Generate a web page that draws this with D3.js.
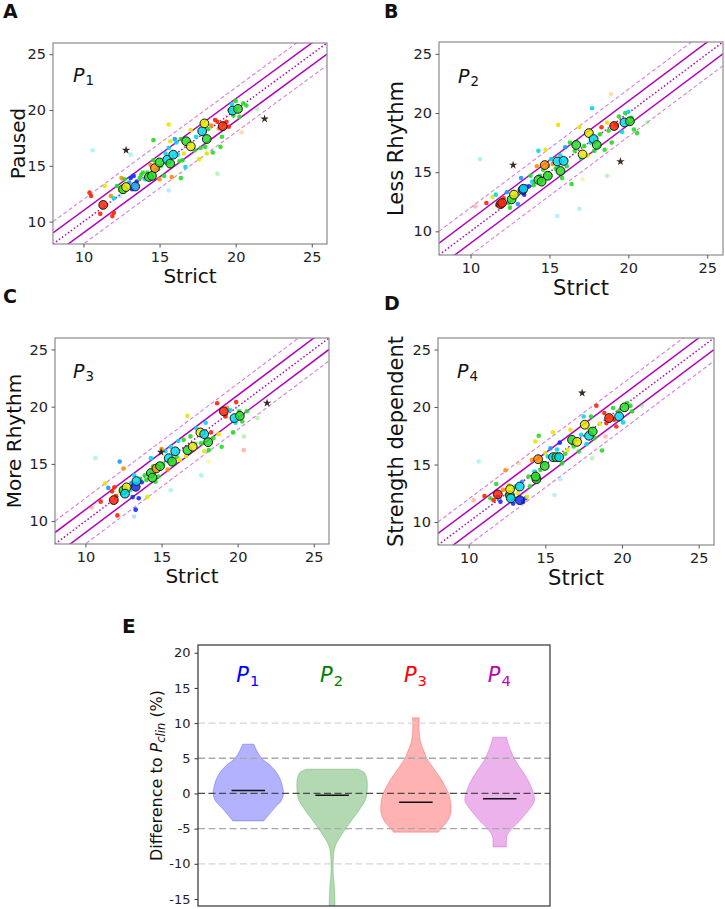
<!DOCTYPE html>
<html>
<head>
<meta charset="utf-8">
<script src="https://cdn.jsdelivr.net/npm/d3@7"></script>
<style>
  body { margin: 0; background: #fff; }
  svg text { font-family: "DejaVu Sans", sans-serif; }
</style>
</head>
<body>
<div id="chart"></div>
<script>
// --- DATA: scatter panels (Strict on x, protocol on y), colour group per point ---

const axisRange = [8, 26];
const scatterTicks = [10, 15, 20, 25];
const bandOffsets = [2, 1, 0, -1, -2];

// Panel A: Paused
const aBig = [[11.3,11.5,"r"],[12.6,12.9,"g"],[12.8,13.1,"y"],[13.4,13.15,"l"],[14.3,14.0,"g"],[14.5,14.1,"g"],
  [14.7,14.8,"o"],[15.0,15.3,"g"],[15.5,15.55,"c"],[15.7,15.2,"g"],[15.9,16.0,"c"],[16.75,17.2,"g"],
  [17.05,16.75,"y"],[17.8,18.1,"c"],[17.95,18.8,"y"],[18.1,17.4,"g"],[19.15,18.55,"r"],[19.8,19.95,"c"],[20.15,20.1,"g"]];
const aSmall = [[10.4,12.6,"r"],[10.5,12.3,"r"],[11.1,10.7,"r"],[11.9,10.5,"r"],[12.0,10.8,"r"],[11.8,12.3,"o"],
  [11.4,13.2,"y"],[12.0,12.1,"c"],[12.2,13.2,"g"],[12.4,12.8,"y"],[12.5,13.9,"o"],[12.7,13.8,"g"],[13.0,13.5,"l"],
  [13.1,13.9,"b"],[13.2,12.9,"b"],[13.3,14.1,"b"],[13.5,13.6,"b"],[13.7,13.9,"g"],[13.6,13.2,"y"],[13.8,14.2,"g"],
  [13.9,14.4,"g"],[14.05,13.8,"c"],[14.2,14.4,"g"],[14.4,15.1,"o"],[14.6,17.3,"g"],[14.6,15.5,"g"],[14.9,14.7,"g"],
  [15.0,13.8,"o"],[15.1,15.0,"g"],[15.3,14.1,"g"],[15.4,16.1,"c"],[15.6,18.7,"y"],[15.6,16.6,"c"],[15.7,17.2,"y"],
  [15.8,14.0,"o"],[16.0,17.4,"l"],[16.1,17.1,"c"],[16.2,16.0,"c"],[16.3,15.4,"g"],[16.4,13.9,"g"],[16.4,17.4,"g"],
  [16.5,15.5,"g"],[16.6,16.1,"y"],[16.7,14.9,"c"],[17.05,18.2,"y"],[17.3,16.4,"g"],[17.4,17.6,"c"],[17.6,15.6,"y"],
  [17.7,16.6,"g"],[17.8,18.8,"y"],[18.0,16.7,"g"],[18.1,16.1,"y"],[18.2,18.3,"g"],[18.4,18.6,"o"],[18.5,16.2,"g"],
  [18.65,19.1,"r"],[18.8,18.95,"r"],[18.9,18.35,"o"],[19.0,16.7,"g"],[19.1,17.6,"g"],[19.2,18.8,"o"],[19.4,18.95,"r"],
  [19.55,18.5,"r"],[19.6,20.0,"g"],[19.75,20.5,"c"],[19.85,19.5,"g"],[20.0,20.8,"g"],[20.25,19.4,"g"],[20.5,20.6,"g"],
  [20.7,20.4,"g"]];
const aFaint = [[20.4,18.0,"o"],[18.8,14.3,"g"],[15.6,12.8,"c"],[10.6,16.4,"c"],[21.4,20.1,"g"],[12.4,12.3,"c"],[13.1,16.0,"c"]];
const aStars = [[12.8,16.4],[21.9,19.2]];

// Panel B: Less Rhythm
const bBig = [[11.9,12.3,"r"],[12.0,12.4,"r"],[12.6,12.7,"g"],[12.75,13.1,"y"],[13.3,13.5,"b"],[13.35,13.6,"c"],
  [14.3,14.35,"g"],[14.5,14.2,"g"],[14.9,14.7,"g"],[14.7,15.6,"o"],[15.5,15.9,"c"],[15.9,15.95,"c"],[15.7,15.1,"g"],
  [16.7,17.3,"g"],[17.1,16.5,"y"],[17.5,18.3,"y"],[17.8,17.8,"c"],[18.0,17.3,"g"],[19.1,18.9,"r"],[19.75,19.2,"c"],[20.1,19.3,"g"]];
const bSmall = [[11.0,12.4,"r"],[11.4,12.9,"y"],[11.6,13.1,"c"],[11.7,12.2,"r"],[12.1,12.8,"r"],[12.3,13.3,"l"],
  [12.4,12.4,"g"],[12.9,13.0,"c"],[13.1,13.4,"y"],[13.2,14.5,"l"],[13.4,13.1,"b"],[13.5,13.8,"l"],[13.7,13.8,"b"],
  [13.8,14.7,"g"],[13.9,14.2,"c"],[14.2,15.5,"o"],[14.3,16.8,"c"],[14.4,14.7,"g"],[14.6,15.2,"g"],[14.75,16.9,"y"],
  [14.9,15.5,"g"],[15.1,16.1,"c"],[15.2,15.7,"o"],[15.4,15.3,"g"],[15.55,19.0,"y"],[15.7,16.4,"c"],[15.8,14.5,"g"],
  [16.0,17.1,"l"],[16.1,15.5,"g"],[16.3,17.5,"g"],[16.4,14.0,"g"],[16.6,16.8,"g"],[16.9,18.8,"y"],[17.0,16.2,"c"],
  [17.2,17.2,"g"],[17.4,16.4,"y"],[17.6,17.5,"c"],[17.7,20.4,"c"],[17.85,16.8,"g"],[18.2,18.2,"g"],[18.3,18.8,"r"],
  [18.5,16.9,"g"],[18.65,19.2,"y"],[18.75,18.5,"g"],[18.95,17.5,"g"],[19.25,19.0,"r"],[19.4,19.7,"g"],[19.6,18.4,"c"],
  [19.8,20.0,"g"],[19.9,19.2,"r"],[20.2,19.6,"g"],[20.35,18.6,"g"],[20.55,18.3,"g"],[20.0,20.1,"c"],[12.5,12.0,"g"],
  [13.0,12.3,"l"],[14.0,13.9,"g"],[15.0,14.6,"g"]];
const bFaint = [[10.3,12.1,"r"],[10.6,16.1,"c"],[18.9,21.6,"o"],[21.2,19.2,"g"],[18.65,14.7,"g"],[15.5,11.3,"c"],[16.9,11.9,"c"],[17.1,14.4,"y"]];
const bStars = [[12.7,15.6],[19.5,15.9]];

// Panel C: More Rhythm
const cBig = [[11.86,11.84,"r"],[12.5,12.7,"g"],[12.7,12.95,"y"],[12.6,12.4,"c"],[13.3,13.0,"b"],[13.35,13.5,"c"],
  [14.3,14.2,"g"],[14.4,13.8,"g"],[14.66,14.6,"o"],[14.9,14.8,"g"],[15.47,15.5,"c"],[15.69,15.2,"g"],[15.9,16.1,"c"],
  [16.7,16.2,"g"],[17.05,16.5,"y"],[17.55,17.75,"y"],[17.8,17.6,"c"],[18.06,16.9,"g"],[19.09,19.59,"r"],[19.79,19.0,"c"],[20.14,19.2,"g"]];
const cSmall = [[11.0,11.7,"r"],[11.3,13.3,"y"],[11.5,12.9,"l"],[11.75,12.6,"r"],[11.9,12.95,"r"],[12.0,12.2,"r"],
  [12.1,10.5,"r"],[12.25,15.2,"l"],[12.5,14.6,"o"],[12.95,12.7,"c"],[13.1,12.1,"b"],[13.2,14.0,"c"],[13.3,11.0,"b"],
  [13.5,12.0,"b"],[13.6,13.7,"g"],[13.7,13.4,"b"],[13.9,14.0,"g"],[14.05,12.1,"y"],[14.3,15.5,"c"],[14.45,14.8,"g"],
  [14.6,13.45,"g"],[14.8,13.9,"g"],[15.0,16.3,"o"],[15.25,16.1,"c"],[15.4,14.5,"o"],[15.6,16.5,"c"],[15.8,15.1,"y"],
  [16.0,15.6,"g"],[16.1,17.0,"c"],[16.2,15.35,"y"],[16.45,17.1,"g"],[16.6,15.7,"y"],[16.7,19.2,"y"],[16.9,17.4,"g"],
  [17.2,16.75,"g"],[17.3,18.1,"c"],[17.6,16.8,"g"],[17.8,16.1,"y"],[17.9,18.6,"c"],[18.1,16.2,"g"],[18.25,17.75,"r"],
  [18.4,17.25,"g"],[18.65,20.3,"r"],[18.75,17.6,"y"],[18.95,16.5,"g"],[19.2,19.15,"r"],[19.3,19.9,"o"],[19.5,19.7,"c"],
  [19.7,17.75,"g"],[19.85,18.6,"c"],[19.9,20.4,"r"],[20.1,19.6,"g"],[20.3,18.7,"g"],[20.6,19.6,"g"],[12.3,12.5,"y"],
  [13.0,13.3,"l"],[14.0,13.6,"g"],[15.1,15.0,"g"]];
const cFaint = [[10.4,11.2,"r"],[10.65,15.5,"c"],[20.4,17.4,"g"],[20.4,16.2,"r"],[21.3,19.0,"g"],[17.6,14.0,"c"],[15.6,12.7,"c"],[18.1,15.2,"y"],[13.2,10.4,"l"]];
const cStars = [[21.93,20.32],[14.97,16.02]];

// Panel D: Strength dependent
const dBig = [[11.9,12.4,"r"],[12.7,12.3,"g"],[12.7,12.85,"y"],[12.75,12.06,"c"],[13.33,13.08,"c"],[13.33,11.9,"b"],
  [14.42,13.72,"g"],[14.37,13.95,"g"],[14.53,15.46,"o"],[14.96,14.88,"g"],[15.5,15.64,"c"],[15.72,15.64,"g"],
  [15.9,15.64,"c"],[16.74,17.15,"g"],[17.07,16.97,"y"],[17.57,18.46,"y"],[17.85,17.5,"c"],[18.09,17.87,"g"],
  [19.16,19.04,"r"],[19.81,19.18,"c"],[20.16,19.97,"g"]];
const dSmall = [[11.03,12.26,"r"],[11.42,12.06,"g"],[11.63,11.9,"r"],[11.8,13.3,"g"],[11.9,12.2,"b"],[12.07,11.77,"b"],
  [12.24,12.79,"o"],[12.4,14.5,"o"],[12.5,12.4,"r"],[12.9,11.6,"b"],[13.05,13.08,"g"],[13.2,12.5,"y"],[13.48,13.5,"l"],
  [13.55,11.77,"b"],[13.7,12.06,"b"],[13.8,12.2,"y"],[13.9,13.95,"g"],[14.0,13.1,"g"],[14.13,15.4,"o"],[14.29,14.39,"c"],
  [14.35,17.0,"y"],[14.57,17.5,"g"],[14.68,14.53,"g"],[14.85,15.1,"g"],[15.0,16.0,"y"],[15.16,15.7,"c"],[15.33,16.4,"l"],
  [15.5,17.8,"y"],[15.76,16.3,"c"],[15.94,16.9,"b"],[16.09,15.1,"g"],[16.3,15.93,"g"],[16.46,16.28,"y"],[16.63,18.02,"y"],
  [16.85,16.57,"g"],[17.18,16.13,"g"],[17.33,17.58,"c"],[17.5,19.18,"c"],[17.68,16.77,"c"],[17.83,18.08,"y"],
  [17.98,19.18,"g"],[18.2,17.29,"g"],[18.33,20.11,"r"],[18.55,18.54,"y"],[18.7,16.22,"g"],[18.85,19.47,"r"],
  [18.98,18.6,"r"],[19.24,19.18,"y"],[19.42,19.91,"g"],[19.5,18.9,"r"],[19.63,18.31,"r"],[19.79,19.62,"g"],
  [20.07,18.66,"c"],[20.33,20.35,"g"],[20.55,20.11,"g"],[20.66,19.62,"g"],[12.6,13.2,"y"],[13.0,12.0,"l"]];
const dFaint = [[10.33,11.9,"r"],[10.66,15.26,"c"],[21.3,20.11,"g"],[18.92,17.44,"r"],[18.05,15.55,"g"],[15.98,13.72,"c"],[15.6,12.35,"c"],[13.26,15.1,"o"]];
const dStars = [[17.4,21.22]];

// --- DATA: panel E violins, [value, relative half width] ---
const violinNames = ["1", "2", "3", "4"];
const violinTicks = [20, 15, 10, 5, 0, -5, -10, -15];
const p1Profile = [[7,0.16],[6,0.25],[5,0.38],[4,0.62],[3,0.8],[2,0.91],[1,0.97],[0,1.0],[-1,0.94],[-2,0.76],[-3,0.59],[-3.9,0.44]];
const p2Profile = [[3.45,0.72],[3,0.91],[2,0.99],[1,1.0],[0,0.99],[-1,0.94],[-2,0.82],[-3,0.68],[-4,0.53],[-5,0.39],[-6,0.25],
  [-7,0.13],[-8,0.06],[-9,0.04],[-10,0.03],[-11,0.03],[-12,0.04],[-13,0.06],[-14,0.07],[-15,0.08],[-16,0.08],[-17,0.07]];
const p3Profile = [[10.75,0.1],[10,0.09],[9,0.09],[8,0.11],[7,0.15],[6,0.23],[5,0.31],[4,0.44],[3,0.58],[2,0.72],[1,0.83],
  [0,0.93],[-1,0.98],[-2,1.0],[-3,0.98],[-4,0.89],[-5,0.72],[-5.5,0.64]];
const p4Profile = [[8,0.19],[7,0.25],[6,0.32],[5,0.41],[4,0.53],[3,0.67],[2,0.79],[1,0.89],[0,0.96],[-1,0.99],[-2,0.88],
  [-3,0.72],[-4,0.55],[-5,0.35],[-6,0.21],[-7,0.19],[-7.6,0.19]];
const violinMeans = [0.42, -0.25, -1.25, -0.75];

// --- STYLE / LAYOUT ---
const groupColor = { r: "#ff2200", o: "#ff8c00", y: "#e6e600", g: "#22dd22", c: "#00d8f0", l: "#1898ff", b: "#1428ff" };
const violinColors = ["#0000ff", "#008000", "#ff0000", "#bf00bf"];

const panels = [
  { key: "A", name: "Paused", big: aBig, small: aSmall, faint: aFaint, stars: aStars,
    left: 53, right: 327, top: 43, bottom: 244, xLabelY: 283, yLabelX: 25, font: 20, letter: [3, 18], pLabel: [73, 82] },
  { key: "B", name: "Less Rhythm", big: bBig, small: bSmall, faint: bFaint, stars: bStars,
    left: 439, right: 723, top: 42, bottom: 255, xLabelY: 295, yLabelX: 403, font: 21, letter: [384, 18], pLabel: [458, 83] },
  { key: "C", name: "More Rhythm", big: cBig, small: cSmall, faint: cFaint, stars: cStars,
    left: 55, right: 329, top: 338, bottom: 544, xLabelY: 583, yLabelX: 21, font: 20, letter: [3, 303], pLabel: [73, 378] },
  { key: "D", name: "Strength dependent", big: dBig, small: dSmall, faint: dFaint, stars: dStars,
    left: 438, right: 714, top: 338, bottom: 545, xLabelY: 585, yLabelX: 403, font: 21, letter: [384, 310], pLabel: [457, 378] }
];

const svg = d3.select("#chart").append("svg")
  .attr("width", 725)
  .attr("height", 909);

function pLabel(sel, x, y, idx, size, color) {
  const t = sel.append("text").attr("x", x).attr("y", y).attr("fill", color);
  t.append("tspan").attr("font-style", "italic").attr("font-size", size).text("P");
  t.append("tspan").attr("font-size", size * 0.7).attr("dy", size * 0.17).attr("dx", 1).text(idx);
}

// --- SCATTER PANELS ---
function drawScatter(p, i) {
  const x = d3.scaleLinear().domain(axisRange).range([p.left, p.right]);
  const y = d3.scaleLinear().domain(axisRange).range([p.bottom, p.top]);
  const g = svg.append("g");

  svg.append("clipPath").attr("id", "clip" + p.key)
    .append("rect").attr("x", p.left).attr("y", p.top)
    .attr("width", p.right - p.left).attr("height", p.bottom - p.top);
  const inner = g.append("g").attr("clip-path", `url(#clip${p.key})`);

  // agreement bands: y = x, y = x +/- 1, y = x +/- 2
  inner.selectAll("line.band").data(bandOffsets).join("line")
    .attr("x1", x(axisRange[0])).attr("y1", d => y(axisRange[0] + d))
    .attr("x2", x(axisRange[1])).attr("y2", d => y(axisRange[1] + d))
    .attr("stroke", d => Math.abs(d) === 2 ? "#d77ee0" : "#b400c0")
    .attr("stroke-width", d => Math.abs(d) === 2 ? 1.1 : 1.5)
    .attr("stroke-dasharray", d => d === 0 ? "1.5,2.2" : (Math.abs(d) === 2 ? "4,2.5" : null));

  inner.selectAll("circle.faint").data(p.faint).join("circle")
    .attr("cx", d => x(d[0])).attr("cy", d => y(d[1])).attr("r", 2.3)
    .attr("fill", d => groupColor[d[2]]).attr("opacity", 0.3);

  inner.selectAll("circle.small").data(p.small).join("circle")
    .attr("cx", d => x(d[0])).attr("cy", d => y(d[1])).attr("r", 2.3)
    .attr("fill", d => groupColor[d[2]]).attr("opacity", 0.9);

  inner.selectAll("circle.big").data(p.big).join("circle")
    .attr("cx", d => x(d[0])).attr("cy", d => y(d[1])).attr("r", 4.4)
    .attr("fill", d => groupColor[d[2]]).attr("fill-opacity", 0.85)
    .attr("stroke", "#1a1a1a").attr("stroke-width", 1);

  inner.selectAll("path.star").data(p.stars).join("path")
    .attr("transform", d => `translate(${x(d[0])},${y(d[1])})`)
    .attr("d", d3.symbol(d3.symbolStar).size(22))
    .attr("fill", "#3a2a20");

  g.append("rect").attr("x", p.left).attr("y", p.top)
    .attr("width", p.right - p.left).attr("height", p.bottom - p.top)
    .attr("fill", "none").attr("stroke", "#8a8a8a").attr("stroke-width", 1.2);

  const styleAxis = a => {
    a.select(".domain").remove();
    a.selectAll("line").attr("stroke", "#555");
    a.selectAll("text").attr("fill", "#222");
    a.attr("font-family", "DejaVu Sans").attr("font-size", 14.5);
  };
  g.append("g").attr("transform", `translate(0,${p.bottom})`)
    .call(d3.axisBottom(x).tickValues(scatterTicks).tickSize(3.5).tickPadding(4.5))
    .call(styleAxis);
  g.append("g").attr("transform", `translate(${p.left},0)`)
    .call(d3.axisLeft(y).tickValues(scatterTicks).tickSize(3.5).tickPadding(3.5))
    .call(styleAxis);

  g.append("text").attr("x", (p.left + p.right) / 2).attr("y", p.xLabelY)
    .attr("text-anchor", "middle").attr("font-size", p.font).attr("fill", "#111").text("Strict");
  g.append("text")
    .attr("transform", `translate(${p.yLabelX},${(p.top + p.bottom) / 2}) rotate(-90)`)
    .attr("text-anchor", "middle").attr("font-size", p.font).attr("fill", "#111").text(p.name);

  pLabel(g, p.pLabel[0], p.pLabel[1], String(i + 1), 19, "#111");

  g.append("text").attr("x", p.letter[0]).attr("y", p.letter[1])
    .attr("font-family", "Liberation Sans").attr("font-weight", "bold").attr("font-size", 19)
    .attr("fill", "#111").text(p.key);
}

panels.forEach(drawScatter);

// --- PANEL E: VIOLINS ---
const E = { left: 198, right: 550, top: 645, bottom: 906 };
const ex = d3.scaleLinear().domain([0.4, 4.6]).range([E.left, E.right]);
const ey = d3.scaleLinear().domain([-16, 21.1]).range([E.bottom, E.top]);
const eg = svg.append("g");

svg.append("clipPath").attr("id", "clipE")
  .append("rect").attr("x", E.left).attr("y", E.top)
  .attr("width", E.right - E.left).attr("height", E.bottom - E.top);
const einner = eg.append("g").attr("clip-path", "url(#clipE)");

const profiles = [p1Profile, p2Profile, p3Profile, p4Profile];
const halfWidth = 0.42;

profiles.forEach((prof, i) => {
  const pos = i + 1;
  const area = d3.area()
    .y(d => ey(d[0]))
    .x0(d => ex(pos - d[1] * halfWidth))
    .x1(d => ex(pos + d[1] * halfWidth))
    .curve(d3.curveCatmullRom);
  einner.append("path").datum(prof)
    .attr("d", area)
    .attr("fill", violinColors[i]).attr("fill-opacity", 0.3)
    .attr("stroke", violinColors[i]).attr("stroke-opacity", 0.25).attr("stroke-width", 1);
});

// reference lines
const refLines = [
  { v: 10, c: "#d6d6d6" }, { v: -10, c: "#d6d6d6" },
  { v: 5, c: "#a9a9a9" }, { v: -5, c: "#a9a9a9" },
  { v: 0, c: "#4a4a4a" }
];
einner.selectAll("line.ref").data(refLines).join("line")
  .attr("x1", E.left).attr("x2", E.right)
  .attr("y1", d => ey(d.v)).attr("y2", d => ey(d.v))
  .attr("stroke", d => d.c).attr("stroke-width", 1.3).attr("stroke-dasharray", "7,3.5");

// mean bars
einner.selectAll("line.mean").data(violinMeans).join("line")
  .attr("x1", (d, i) => ex(i + 1 - 0.2)).attr("x2", (d, i) => ex(i + 1 + 0.2))
  .attr("y1", d => ey(d)).attr("y2", d => ey(d))
  .attr("stroke", "#111").attr("stroke-width", 1.6);

eg.append("rect").attr("x", E.left).attr("y", E.top)
  .attr("width", E.right - E.left).attr("height", E.bottom - E.top)
  .attr("fill", "none").attr("stroke", "#333").attr("stroke-width", 1.2);

eg.append("g").attr("transform", `translate(${E.left},0)`)
  .call(d3.axisLeft(ey).tickValues(violinTicks).tickSize(3.5).tickPadding(4).tickFormat(d => String(d)))
  .call(a => {
    a.select(".domain").remove();
    a.selectAll("line").attr("stroke", "#333");
    a.selectAll("text").attr("fill", "#222");
    a.attr("font-family", "Open Sans").attr("font-size", 13);
  });

const ylab = eg.append("text")
  .attr("transform", `translate(${162},${(E.top + E.bottom) / 2}) rotate(-90)`)
  .attr("text-anchor", "middle").attr("font-family", "Open Sans").attr("font-size", 16).attr("fill", "#111");
ylab.append("tspan").text("Difference to ");
ylab.append("tspan").attr("font-style", "italic").text("P");
ylab.append("tspan").attr("font-style", "italic").attr("font-size", 11.5).attr("dy", 3).text("clin");
ylab.append("tspan").attr("dy", -3).text(" (%)");

violinNames.forEach((n, i) => {
  pLabel(eg, ex(i + 1) - 12, 682, n, 21, violinColors[i]);
});

eg.append("text").attr("x", 122).attr("y", 633)
  .attr("font-family", "Liberation Sans").attr("font-weight", "bold").attr("font-size", 20)
  .attr("fill", "#111").text("E");
</script>
</body>
</html>
